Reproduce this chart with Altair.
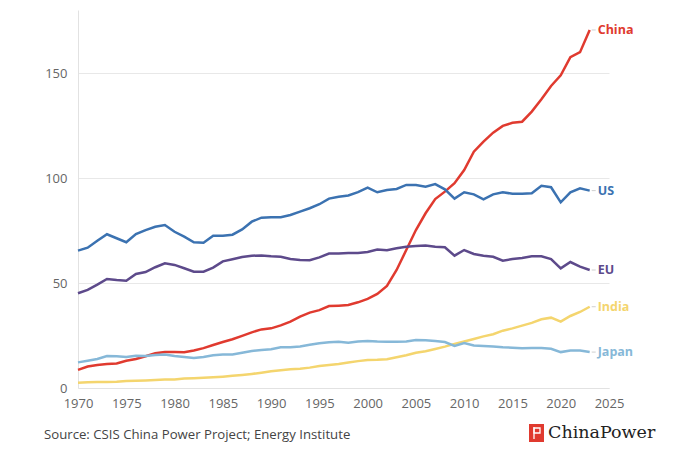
import altair as alt
import pandas as pd

years = list(range(1970, 2024))

china = [8.6, 10.2, 11.0, 11.4, 11.7, 13.0, 13.8, 15.1, 16.5, 17.1,
         17.1, 17.0, 17.9, 19.0, 20.5, 21.9, 23.2, 24.8, 26.5, 27.9,
         28.4, 29.8, 31.6, 34.0, 35.9, 37.1, 39.0, 39.2, 39.5, 40.8,
         42.4, 44.8, 48.6, 56.2, 65.7, 75.2, 83.2, 90.0, 93.5, 97.5,
         103.8, 112.5, 117.3, 121.6, 124.8, 126.3, 126.8, 131.6, 137.5, 143.8,
         148.9, 157.5, 159.9, 170.5]

us = [65.4, 66.8, 70.1, 73.2, 71.3, 69.4, 73.3, 75.2, 76.8, 77.6,
      74.4, 72.1, 69.4, 69.2, 72.5, 72.5, 73.0, 75.5, 79.2, 81.1,
      81.3, 81.3, 82.4, 84.0, 85.6, 87.5, 90.2, 91.1, 91.7, 93.3,
      95.4, 93.2, 94.3, 94.8, 96.7, 96.7, 95.9, 97.1, 94.6, 90.2,
      93.2, 92.2, 89.8, 92.2, 93.2, 92.5, 92.5, 92.7, 96.3, 95.6,
      88.4, 93.2, 95.1, 94.0]

eu = [45.1, 46.7, 49.2, 51.9, 51.4, 51.1, 54.3, 55.2, 57.5, 59.4,
      58.6, 57.0, 55.4, 55.4, 57.3, 60.3, 61.3, 62.4, 63.0, 63.1,
      62.7, 62.5, 61.4, 61.0, 60.8, 62.2, 64.0, 64.0, 64.3, 64.3,
      64.8, 65.9, 65.6, 66.5, 67.3, 67.6, 67.9, 67.3, 67.0, 63.0,
      65.7, 63.8, 63.0, 62.5, 60.6, 61.4, 61.9, 62.7, 62.7, 61.4,
      57.0, 60.0, 57.8, 56.2]

india = [2.5, 2.7, 2.8, 2.9, 3.0, 3.3, 3.5, 3.6, 3.8, 4.0,
         4.1, 4.5, 4.7, 4.9, 5.1, 5.4, 5.8, 6.2, 6.7, 7.3,
         8.0, 8.4, 8.9, 9.2, 9.7, 10.5, 11.0, 11.4, 12.1, 12.8,
         13.3, 13.4, 13.7, 14.6, 15.6, 16.8, 17.5, 18.6, 19.7, 21.0,
         22.1, 23.3, 24.6, 25.6, 27.3, 28.4, 29.7, 31.0, 32.7, 33.5,
         31.6, 34.3, 36.2, 38.7]

japan = [12.2, 13.0, 13.8, 15.2, 15.1, 14.8, 15.4, 15.2, 15.7, 15.9,
         15.2, 14.8, 14.3, 14.8, 15.6, 16.0, 16.0, 16.8, 17.6, 18.1,
         18.5, 19.4, 19.4, 19.8, 20.6, 21.3, 21.8, 22.0, 21.6, 22.1,
         22.4, 22.1, 22.0, 22.0, 22.2, 22.8, 22.7, 22.4, 21.9, 20.0,
         21.4, 20.2, 20.0, 19.8, 19.4, 19.2, 18.9, 19.0, 19.0, 18.7,
         17.1, 17.9, 17.8, 17.1]

series_names = ["China", "US", "EU", "India", "Japan"]
series_colors = ["#e03a2f", "#3b72b1", "#5d4a8b", "#f4d56e", "#86b8d8"]
series_values = [china, us, eu, india, japan]

x_ticks = list(range(1970, 2030, 5))
y_ticks = [0, 50, 100, 150]
source_text = "Source: CSIS China Power Project; Energy Institute"
brand_text = "ChinaPower"

rows = []
for name, vals in zip(series_names, series_values):
    for yr, v in zip(years, vals):
        rows.append({"year": yr, "value": v, "series": name})
df = pd.DataFrame(rows)
last = df[df["year"] == years[-1]]

color = alt.Color("series:N", scale=alt.Scale(domain=series_names, range=series_colors), legend=None)
x = alt.X("year:Q", scale=alt.Scale(domain=[1970, 2025], nice=False, zero=False),
          axis=alt.Axis(values=x_ticks, format="d", title=None, grid=False, ticks=False,
                        labelPadding=9, labelFontSize=13, labelColor="#666666",
                        labelFlush=False, labelBound=False, labelOverlap=False,
                        domainColor="#e2e2e2", labelFont="Open Sans"))
y = alt.Y("value:Q", scale=alt.Scale(domain=[0, 180], nice=False),
          axis=alt.Axis(values=y_ticks, title=None, grid=True, ticks=False, gridColor="#e8e8e8",
                        labelPadding=11, labelFontSize=13, labelColor="#666666",
                        domainColor="#e2e2e2", labelFont="Open Sans"))

lines = alt.Chart(df).mark_line(strokeWidth=2.5).encode(x=x, y=y, color=color, detail="series:N")

labels = alt.Chart(last).mark_text(align="left", baseline="middle", dx=8, fontSize=12.5,
                                   fontWeight="bold", font="Open Sans").encode(
    x="year:Q", y="value:Q", text="series:N", color=color)

leaders = alt.Chart(last).mark_tick(orient="horizontal", size=4, thickness=1, color="#bbbbbb",
                                    xOffset=4).encode(x="year:Q", y="value:Q")

src = alt.Chart(pd.DataFrame({"t": [source_text]})).mark_text(
    align="left", baseline="middle", fontSize=13.2, color="#444444", font="Open Sans").encode(
    x=alt.value(-34), y=alt.value(425), text="t:N")

logo_box = alt.Chart(pd.DataFrame({"a": [0]})).mark_rect(color="#e03a2f").encode(
    x=alt.value(451), x2=alt.value(466), y=alt.value(414), y2=alt.value(432))
icon1 = alt.Chart(pd.DataFrame({"a": [0]})).mark_rule(color="white", strokeWidth=1.3).encode(
    x=alt.value(456), y=alt.value(417), y2=alt.value(429))
icon2 = alt.Chart(pd.DataFrame({"a": [0]})).mark_rect(fill=None, stroke="white", strokeWidth=1.3).encode(
    x=alt.value(456), x2=alt.value(462), y=alt.value(418), y2=alt.value(423))

brand = alt.Chart(pd.DataFrame({"t": [brand_text]})).mark_text(
    align="left", baseline="middle", fontSize=17.5, color="#222222", font="DejaVu Serif").encode(
    x=alt.value(470), y=alt.value(423), text="t:N")

chart = alt.layer(lines, leaders, labels, src, logo_box, icon1, icon2, brand).properties(
    width=531, height=378,
    autosize=alt.AutoSizeParams(type="none"),
    padding={"left": 70, "top": 2, "right": 58, "bottom": 63},
    background="white",
).configure_view(stroke=None)

chart.save("out.html", embed_options={"renderer": "svg", "actions": False})
